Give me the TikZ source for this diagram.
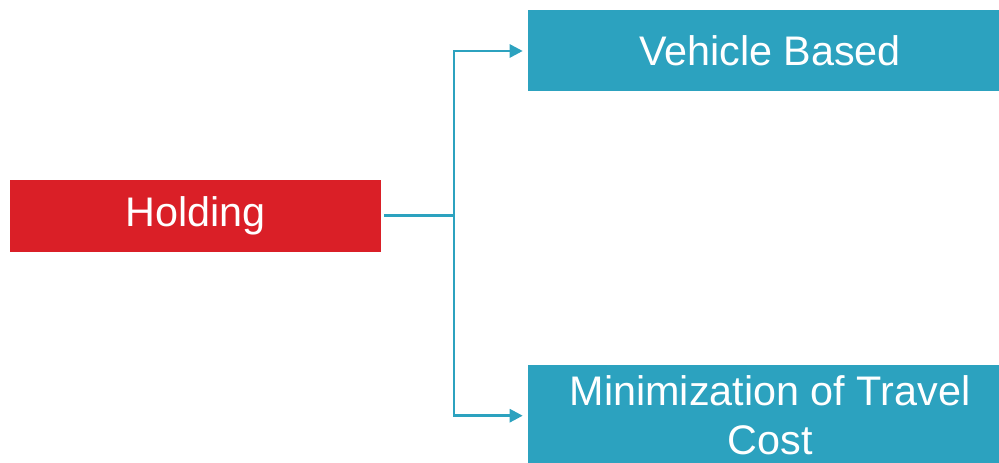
\documentclass[tikz,border=0pt]{standalone}
\usepackage{fontspec}
\setmainfont{Liberation Sans}
\usetikzlibrary{arrows.meta}
\definecolor{hred}{RGB}{218,31,39}
\definecolor{hblue}{RGB}{44,162,191}
\tikzset{
  box/.style={rectangle, inner sep=0pt, text=white, align=center,
    font=\fontsize{31}{36.75}\selectfont},
  redbox/.style={box, fill=hred, minimum width=278.25pt, minimum height=54pt},
  bluebox/.style={box, fill=hblue, minimum width=363pt},
  conn/.style={draw=hblue, line width=2pt},
  arr/.style={conn, -{Triangle[length=9.75pt,width=9.75pt]}}
}
\begin{document}
\begin{tikzpicture}[x=0.75pt,y=-0.75pt]
\useasboundingbox (0,0) rectangle (999,463);
\clip (0,0) rectangle (999,463);
\node[redbox] (hold) at (195.5,216) {Holding};
\node[bluebox, minimum height=60.75pt] (veh) at (770,50.5) {Vehicle Based};
\node[bluebox, minimum height=75.75pt] (min) at (770,415.7) {Minimization of Travel\\Cost};
\coordinate (j) at (454,215.7);
\coordinate (jt) at (454,51);
\coordinate (jb) at (454,415.7);
\draw[conn] ([xshift=2.25pt]hold.east |- j) -- (j);
\draw[arr] (j) -- (jt) -- ([xshift=-3.75pt]veh.west |- jt);
\draw[arr] (j) -- (jb) -- ([xshift=-3.75pt]min.west |- jb);
\end{tikzpicture}
\end{document}
